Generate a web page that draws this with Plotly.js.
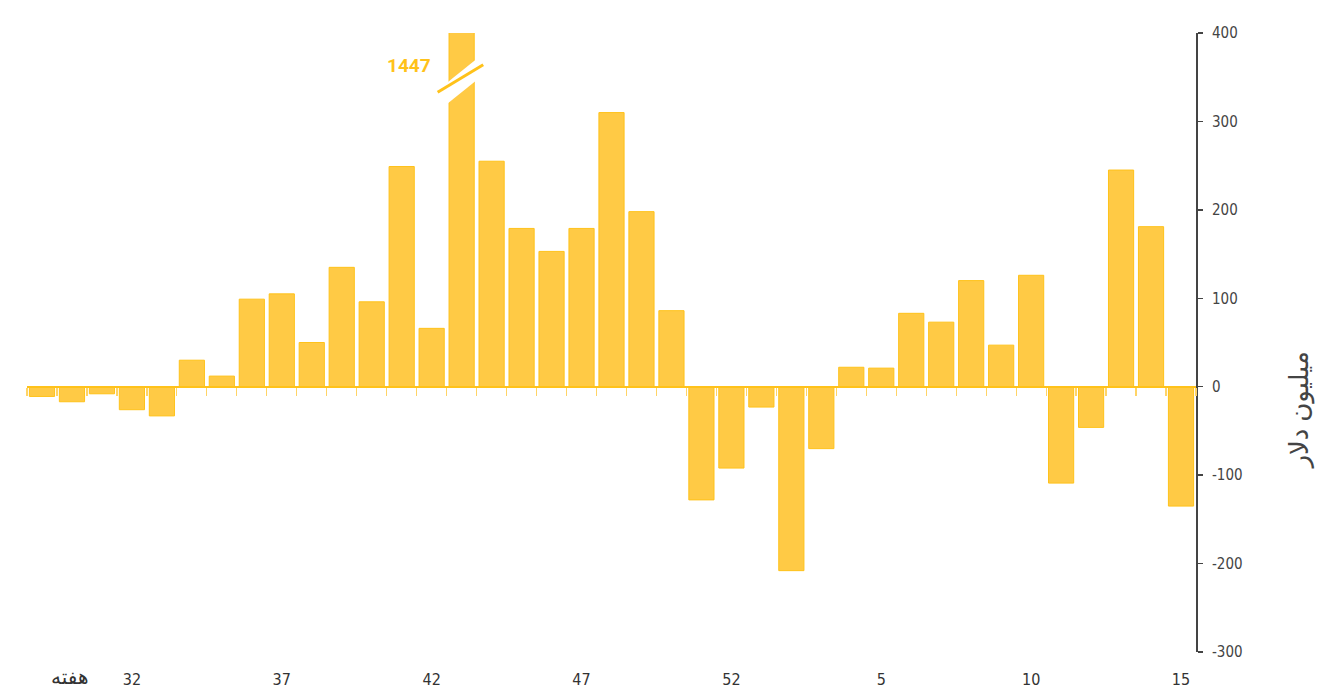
<!DOCTYPE html>
<html>
<head>
<meta charset="utf-8">
<script src="https://cdn.plot.ly/plotly-3.0.1.min.js"></script>
<style>
  html, body { margin: 0; padding: 0; background: #fff; }
  #chart { width: 1322px; height: 692px; }
</style>
</head>
<body>
<div id="chart"></div>
<script>
// Week numbers (2nd half of one year, then start of the next)
const weeks = ['29','30','31','32','33','34','35','36','37','38','39','40','41','42','43','44','45','46','47','48','49','50','51','52',
               '1','2','3','4','5','6','7','8','9','10','11','12','13','14','15'];
// Weekly values, million dollars
const values = [-11, -17, -8, -26, -33, 30, 12, 99, 105, 50, 135, 96, 249, 66, 1447, 255, 179, 153, 179, 310, 198, 86, -128, -92,
                -23, -208, -70, 22, 21, 83, 73, 120, 47, 126, -109, -46, 245, 181, -135];
const xTickLabels = ['32','37','42','47','52','5','10','15'];
const yTickValues = [400, 300, 200, 100, 0, -100, -200, -300];
const yTitle = 'میلیون دلار';
const xTitle = 'هفته';

const barFill = '#FFCA45';
const barEdge = '#FFC21A';
const axisFont = 'Liberation Sans Narrow, DejaVu Sans Condensed, Roboto, sans-serif';

// index of the broken (out-of-range) bar
const yMax = 400, yMin = -300;
const bigIdx = values.findIndex(v => v > yMax);

const traces = [
  {
    type: 'bar', x: weeks, y: values, xaxis: 'x', yaxis: 'y',
    marker: { color: barFill, line: { color: barEdge, width: 1 } },
    hoverinfo: 'x+y', cliponaxis: true
  },
  {
    type: 'scatter', mode: 'none', x: weeks, y: weeks.map(() => null),
    xaxis: 'x2', yaxis: 'y', hoverinfo: 'skip', showlegend: false
  }
];

const zeroPos = (0 - yMin) / (yMax - yMin);

const layout = {
  width: 1322, height: 692,
  margin: { l: 27, r: 126, t: 33, b: 40 },
  paper_bgcolor: '#ffffff', plot_bgcolor: '#ffffff',
  showlegend: false,
  bargap: 0.16,
  xaxis: {
    type: 'category', categoryorder: 'array', categoryarray: weeks,
    range: [-0.5, weeks.length - 0.5],
    tickmode: 'array', tickvals: xTickLabels, ticktext: xTickLabels,
    ticks: '', showline: false, showgrid: false, zeroline: false,
    ticklabelstandoff: 16,
    tickfont: { family: axisFont, size: 16, color: '#333333' },
    fixedrange: true
  },
  xaxis2: {
    type: 'category', categoryorder: 'array', categoryarray: weeks,
    range: [-0.5, weeks.length - 0.5],
    overlaying: 'x', anchor: 'free', position: zeroPos, side: 'bottom',
    showticklabels: false, ticks: 'outside', tickson: 'boundaries',
    ticklen: 8, tickwidth: 1.2, tickcolor: '#FFD466',
    showline: true, linecolor: barEdge, linewidth: 2,
    showgrid: false, zeroline: false, fixedrange: true
  },
  yaxis: {
    range: [yMin, yMax], side: 'right',
    tickmode: 'array', tickvals: yTickValues,
    ticktext: yTickValues.map(String),
    ticks: 'outside', ticklen: 5, tickwidth: 1.5, tickcolor: '#444444',
    showline: true, linecolor: '#444444', linewidth: 2,
    showgrid: false, zeroline: false,
    ticklabelstandoff: 6,
    tickfont: { family: axisFont, size: 15, color: '#444444' },
    fixedrange: true
  },
  shapes: [
    // white diagonal gap marking the axis break on the out-of-range bar
    {
      type: 'path', xref: 'x', yref: 'y', layer: 'above',
      path: `M ${bigIdx - 0.55} 318 L ${bigIdx + 0.55} 348 L ${bigIdx + 0.55} 372 L ${bigIdx - 0.55} 342 Z`,
      fillcolor: '#ffffff', line: { width: 0 }
    },
    {
      type: 'line', xref: 'x', yref: 'y', layer: 'above',
      x0: bigIdx - 0.8, y0: 333, x1: bigIdx + 0.72, y1: 364,
      line: { color: barEdge, width: 3 }
    }
  ],
  annotations: [
    {
      xref: 'x', yref: 'y', x: bigIdx - 0.95, y: 363,
      text: String(values[bigIdx]), showarrow: false, xanchor: 'right', yanchor: 'middle',
      font: { family: 'Roboto, sans-serif', size: 19, color: '#FFC21A', weight: 'bold' }
    },
    {
      xref: 'paper', yref: 'paper', x: 1, xshift: 102, y: 0.39,
      text: yTitle, showarrow: false, textangle: -90,
      xanchor: 'center', yanchor: 'middle',
      font: { family: 'Noto Sans, DejaVu Sans, sans-serif', size: 26, color: '#444444' }
    },
    {
      xref: 'paper', yref: 'paper', x: 0, xshift: 42, y: 0, yshift: -24,
      text: xTitle, showarrow: false, xanchor: 'center', yanchor: 'middle',
      font: { family: 'Noto Sans, DejaVu Sans, sans-serif', size: 20, color: '#333333' }
    }
  ]
};

Plotly.newPlot('chart', traces, layout, { displayModeBar: false, staticPlot: true });
</script>
</body>
</html>
